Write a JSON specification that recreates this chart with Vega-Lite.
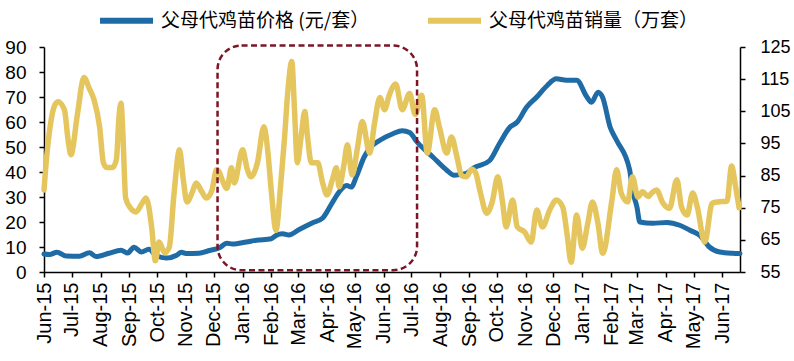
{
  "$schema": "https://vega.github.io/schema/vega-lite/v6.json",
  "width": 696,
  "height": 225,
  "autosize": {"type": "none"},
  "padding": {"left": 44, "top": 47, "right": 54, "bottom": 89},
  "background": "white",
  "config": {
    "view": {"stroke": null},
    "font": "Liberation Sans",
    "axis": {
      "grid": false,
      "domainColor": "#000000",
      "domainWidth": 1.5,
      "tickColor": "#000000",
      "tickWidth": 1.5,
      "tickSize": 5,
      "labelColor": "#000000",
      "labelFont": "Liberation Sans",
      "labelFontSize": 18,
      "title": null
    }
  },
  "datasets": {
    "price": [
      {"d": "2015-06-01", "v": 7.2}, {"d": "2015-06-07", "v": 7.0}, {"d": "2015-06-15", "v": 7.9}, {"d": "2015-06-25", "v": 6.4},
      {"d": "2015-07-09", "v": 6.3}, {"d": "2015-07-20", "v": 7.7}, {"d": "2015-07-27", "v": 6.2}, {"d": "2015-08-10", "v": 7.5},
      {"d": "2015-08-23", "v": 8.7}, {"d": "2015-08-30", "v": 7.6}, {"d": "2015-09-06", "v": 9.9}, {"d": "2015-09-14", "v": 8.0},
      {"d": "2015-09-22", "v": 9.1}, {"d": "2015-09-30", "v": 6.5}, {"d": "2015-10-11", "v": 5.6}, {"d": "2015-10-22", "v": 6.7},
      {"d": "2015-10-27", "v": 7.9}, {"d": "2015-11-01", "v": 7.4}, {"d": "2015-11-15", "v": 7.5}, {"d": "2015-11-26", "v": 8.6},
      {"d": "2015-12-07", "v": 9.7}, {"d": "2015-12-15", "v": 11.5}, {"d": "2015-12-21", "v": 11.2}, {"d": "2016-01-05", "v": 12.0},
      {"d": "2016-01-16", "v": 12.7}, {"d": "2016-02-01", "v": 13.3}, {"d": "2016-02-06", "v": 14.6}, {"d": "2016-02-13", "v": 15.3},
      {"d": "2016-02-20", "v": 14.8}, {"d": "2016-03-02", "v": 17.0}, {"d": "2016-03-16", "v": 19.6}, {"d": "2016-03-27", "v": 21.5},
      {"d": "2016-04-06", "v": 27.3}, {"d": "2016-04-14", "v": 32.0}, {"d": "2016-04-22", "v": 34.6}, {"d": "2016-04-27", "v": 34.0},
      {"d": "2016-05-03", "v": 38.5}, {"d": "2016-05-11", "v": 46.0}, {"d": "2016-05-17", "v": 49.5}, {"d": "2016-05-28", "v": 52.7},
      {"d": "2016-06-11", "v": 55.3}, {"d": "2016-06-21", "v": 56.5}, {"d": "2016-06-29", "v": 55.8}, {"d": "2016-07-07", "v": 52.0},
      {"d": "2016-07-24", "v": 46.0}, {"d": "2016-08-08", "v": 40.7}, {"d": "2016-08-16", "v": 38.7}, {"d": "2016-08-29", "v": 39.5},
      {"d": "2016-09-07", "v": 41.8}, {"d": "2016-09-23", "v": 44.5}, {"d": "2016-10-04", "v": 51.5}, {"d": "2016-10-15", "v": 57.9},
      {"d": "2016-10-23", "v": 60.0}, {"d": "2016-11-02", "v": 65.9}, {"d": "2016-11-13", "v": 70.0}, {"d": "2016-11-24", "v": 74.5},
      {"d": "2016-12-04", "v": 77.3}, {"d": "2016-12-15", "v": 76.7}, {"d": "2016-12-26", "v": 76.7}, {"d": "2017-01-06", "v": 70.0},
      {"d": "2017-01-11", "v": 67.9}, {"d": "2017-01-18", "v": 71.9}, {"d": "2017-01-23", "v": 69.8}, {"d": "2017-01-31", "v": 58.0},
      {"d": "2017-02-07", "v": 52.7}, {"d": "2017-02-21", "v": 41.0}, {"d": "2017-02-24", "v": 33.0}, {"d": "2017-03-01", "v": 25.9},
      {"d": "2017-03-04", "v": 20.0}, {"d": "2017-03-18", "v": 19.5}, {"d": "2017-04-02", "v": 19.8}, {"d": "2017-04-16", "v": 18.7},
      {"d": "2017-04-27", "v": 16.7}, {"d": "2017-05-08", "v": 14.5}, {"d": "2017-05-18", "v": 10.0}, {"d": "2017-05-29", "v": 8.0},
      {"d": "2017-06-12", "v": 7.5}, {"d": "2017-06-20", "v": 7.4}
    ],
    "sales": [
      {"d": "2015-06-01", "v": 80.5}, {"d": "2015-06-03", "v": 88}, {"d": "2015-06-08", "v": 101}, {"d": "2015-06-12", "v": 106.5},
      {"d": "2015-06-16", "v": 108}, {"d": "2015-06-23", "v": 105.5}, {"d": "2015-06-27", "v": 96}, {"d": "2015-06-30", "v": 91.5},
      {"d": "2015-07-07", "v": 104}, {"d": "2015-07-14", "v": 115.5}, {"d": "2015-07-20", "v": 112}, {"d": "2015-07-25", "v": 108.5},
      {"d": "2015-07-31", "v": 100}, {"d": "2015-08-04", "v": 89}, {"d": "2015-08-08", "v": 87.5}, {"d": "2015-08-14", "v": 87.5},
      {"d": "2015-08-18", "v": 90}, {"d": "2015-08-21", "v": 104}, {"d": "2015-08-23", "v": 107.5}, {"d": "2015-08-25", "v": 98},
      {"d": "2015-08-28", "v": 78}, {"d": "2015-09-02", "v": 75}, {"d": "2015-09-08", "v": 73.7}, {"d": "2015-09-15", "v": 76.5},
      {"d": "2015-09-19", "v": 78}, {"d": "2015-09-25", "v": 69}, {"d": "2015-09-29", "v": 58.5}, {"d": "2015-10-03", "v": 64.3},
      {"d": "2015-10-09", "v": 61}, {"d": "2015-10-14", "v": 62.7}, {"d": "2015-10-19", "v": 79}, {"d": "2015-10-25", "v": 93},
      {"d": "2015-10-29", "v": 84}, {"d": "2015-11-02", "v": 76.8}, {"d": "2015-11-08", "v": 80}, {"d": "2015-11-12", "v": 82.7},
      {"d": "2015-11-18", "v": 80}, {"d": "2015-11-23", "v": 78}, {"d": "2015-11-29", "v": 80.5}, {"d": "2015-12-04", "v": 86.8},
      {"d": "2015-12-07", "v": 86}, {"d": "2015-12-10", "v": 83.7}, {"d": "2015-12-15", "v": 81}, {"d": "2015-12-20", "v": 87.4},
      {"d": "2015-12-23", "v": 82.7}, {"d": "2016-01-01", "v": 93}, {"d": "2016-01-06", "v": 87}, {"d": "2016-01-10", "v": 84.6},
      {"d": "2016-01-17", "v": 89}, {"d": "2016-01-24", "v": 100.2}, {"d": "2016-01-28", "v": 93}, {"d": "2016-02-01", "v": 80},
      {"d": "2016-02-06", "v": 68}, {"d": "2016-02-11", "v": 82}, {"d": "2016-02-15", "v": 96}, {"d": "2016-02-19", "v": 112},
      {"d": "2016-02-23", "v": 120.5}, {"d": "2016-02-26", "v": 105}, {"d": "2016-02-29", "v": 89}, {"d": "2016-03-04", "v": 97},
      {"d": "2016-03-08", "v": 104.9}, {"d": "2016-03-11", "v": 97}, {"d": "2016-03-15", "v": 89}, {"d": "2016-03-22", "v": 89},
      {"d": "2016-03-27", "v": 83}, {"d": "2016-04-01", "v": 79}, {"d": "2016-04-07", "v": 84}, {"d": "2016-04-11", "v": 87.4},
      {"d": "2016-04-14", "v": 81.5}, {"d": "2016-04-19", "v": 88}, {"d": "2016-04-23", "v": 94.6}, {"d": "2016-04-28", "v": 85.2},
      {"d": "2016-05-04", "v": 94}, {"d": "2016-05-09", "v": 101.8}, {"d": "2016-05-17", "v": 92}, {"d": "2016-05-22", "v": 101},
      {"d": "2016-05-28", "v": 109.3}, {"d": "2016-06-02", "v": 105.5}, {"d": "2016-06-07", "v": 110}, {"d": "2016-06-14", "v": 113.5},
      {"d": "2016-06-21", "v": 105.5}, {"d": "2016-06-29", "v": 110.5}, {"d": "2016-07-05", "v": 104}, {"d": "2016-07-12", "v": 110},
      {"d": "2016-07-18", "v": 92}, {"d": "2016-07-26", "v": 105.5}, {"d": "2016-07-31", "v": 100.2}, {"d": "2016-08-08", "v": 92},
      {"d": "2016-08-13", "v": 97}, {"d": "2016-08-19", "v": 90.8}, {"d": "2016-08-24", "v": 85}, {"d": "2016-08-29", "v": 84.6},
      {"d": "2016-09-04", "v": 87}, {"d": "2016-09-08", "v": 86}, {"d": "2016-09-13", "v": 80}, {"d": "2016-09-20", "v": 73.3},
      {"d": "2016-09-26", "v": 76.8}, {"d": "2016-10-02", "v": 84.6}, {"d": "2016-10-07", "v": 77}, {"d": "2016-10-11", "v": 69},
      {"d": "2016-10-18", "v": 77.4}, {"d": "2016-10-23", "v": 69}, {"d": "2016-10-31", "v": 67.4}, {"d": "2016-11-07", "v": 64.3},
      {"d": "2016-11-13", "v": 74.3}, {"d": "2016-11-19", "v": 69}, {"d": "2016-11-27", "v": 74.3}, {"d": "2016-12-04", "v": 77.4},
      {"d": "2016-12-11", "v": 75.2}, {"d": "2016-12-16", "v": 66}, {"d": "2016-12-20", "v": 58}, {"d": "2016-12-26", "v": 72.7},
      {"d": "2017-01-01", "v": 62.4}, {"d": "2017-01-07", "v": 70.2}, {"d": "2017-01-12", "v": 76.8}, {"d": "2017-01-18", "v": 70},
      {"d": "2017-01-23", "v": 60.8}, {"d": "2017-02-02", "v": 77.4}, {"d": "2017-02-07", "v": 86.8}, {"d": "2017-02-12", "v": 79.6},
      {"d": "2017-02-19", "v": 76.8}, {"d": "2017-02-24", "v": 84.6}, {"d": "2017-03-02", "v": 78.3}, {"d": "2017-03-07", "v": 80},
      {"d": "2017-03-13", "v": 78.5}, {"d": "2017-03-17", "v": 79.6}, {"d": "2017-03-22", "v": 80.5}, {"d": "2017-03-29", "v": 76.4},
      {"d": "2017-04-05", "v": 74.8}, {"d": "2017-04-13", "v": 83.7}, {"d": "2017-04-18", "v": 75.2}, {"d": "2017-04-24", "v": 72.7},
      {"d": "2017-04-30", "v": 79.6}, {"d": "2017-05-05", "v": 75.2}, {"d": "2017-05-13", "v": 64.3}, {"d": "2017-05-21", "v": 76.4},
      {"d": "2017-05-27", "v": 76.8}, {"d": "2017-06-06", "v": 77}, {"d": "2017-06-11", "v": 88}, {"d": "2017-06-15", "v": 82},
      {"d": "2017-06-19", "v": 75}
    ],
    "box": [{"start": "2015-12-05", "end": "2016-07-07", "low": 0.7, "high": 90.6}]
  },
  "layer": [
    {
      "data": {"name": "price"},
      "mark": {"type": "line", "interpolate": "monotone", "strokeWidth": 5, "strokeCap": "round", "strokeJoin": "round"},
      "encoding": {
        "x": {
          "field": "d", "type": "temporal",
          "scale": {"type": "utc", "nice": false, "domain": [{"year": 2015, "month": 6, "date": 1, "utc": true}, {"year": 2017, "month": 6, "date": 20, "utc": true}]},
          "axis": {"orient": "bottom", "format": "%b-%y", "tickCount": {"interval": "month", "step": 1}, "labelAngle": -90, "labelFontSize": 20, "labelPadding": 5, "labelOverlap": false, "labelBound": false, "labelFlush": false}
        },
        "y": {
          "field": "v", "type": "quantitative",
          "scale": {"domain": [0, 90], "nice": false, "zero": false},
          "axis": {"orient": "left", "values": [0, 10, 20, 30, 40, 50, 60, 70, 80, 90], "labelPadding": 13, "labelFontSize": 19}
        },
        "color": {
          "datum": "父母代鸡苗价格 (元/套）", "type": "nominal",
          "scale": {"domain": ["父母代鸡苗价格 (元/套）", "父母代鸡苗销量（万套）"], "range": ["#1F6BA5", "#E5C65E"]},
          "legend": {
            "orient": "none", "legendX": 53, "legendY": -56, "direction": "horizontal", "title": null,
            "symbolType": "stroke", "symbolSize": 2809, "symbolStrokeWidth": 6,
            "labelFont": "Noto Sans CJK SC", "labelFontSize": 19, "labelColor": "#000000", "labelOffset": 5,
            "columnPadding": 46, "labelLimit": 400
          }
        }
      }
    },
    {
      "data": {"name": "sales"},
      "mark": {"type": "line", "interpolate": "monotone", "strokeWidth": 5.5, "strokeCap": "round", "strokeJoin": "round"},
      "encoding": {
        "x": {
          "field": "d", "type": "temporal",
          "scale": {"type": "utc", "nice": false, "domain": [{"year": 2015, "month": 6, "date": 1, "utc": true}, {"year": 2017, "month": 6, "date": 20, "utc": true}]}
        },
        "y": {
          "field": "v", "type": "quantitative",
          "scale": {"domain": [55, 125], "nice": false, "zero": false},
          "axis": {"orient": "right", "values": [55, 65, 75, 85, 95, 105, 115, 125], "labelPadding": 15}
        },
        "color": {"datum": "父母代鸡苗销量（万套）", "type": "nominal"}
      }
    },
    {
      "data": {"name": "box"},
      "mark": {"type": "rect", "filled": false, "stroke": "#7E1526", "strokeWidth": 2.5, "strokeDash": [6, 3.5], "cornerRadius": 24},
      "encoding": {
        "x": {
          "field": "start", "type": "temporal",
          "scale": {"type": "utc", "nice": false, "domain": [{"year": 2015, "month": 6, "date": 1, "utc": true}, {"year": 2017, "month": 6, "date": 20, "utc": true}]}
        },
        "x2": {"field": "end"},
        "y": {"field": "high", "type": "quantitative", "scale": {"domain": [0, 90], "nice": false, "zero": false}, "axis": null},
        "y2": {"field": "low"}
      }
    }
  ],
  "resolve": {"scale": {"y": "independent"}}
}
